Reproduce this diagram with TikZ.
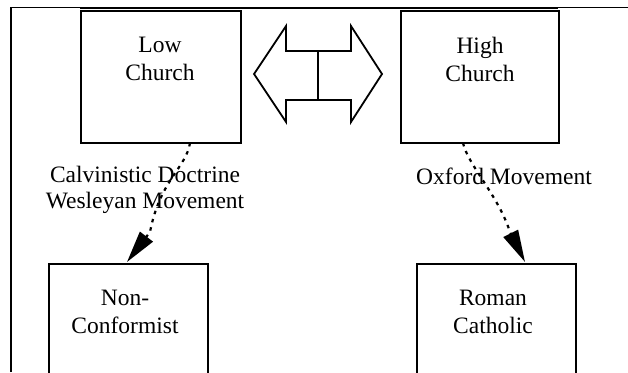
\documentclass[tikz,border=0pt]{standalone}
\usepackage{fontspec}
\setmainfont{Liberation Serif}
\usetikzlibrary{arrows.meta}
\begin{document}
\begin{tikzpicture}[x=1pt,y=-1pt,
  boxline/.style={line width=2.3pt},
  txt/.style={align=center, inner sep=0pt, font=\fontsize{23.5}{28}\selectfont},
  lbl/.style={align=center, inner sep=0pt, font=\fontsize{23.5}{26}\selectfont},
  conn/.style={line width=2.2pt, dash pattern=on 3.5pt off 5pt, -{Triangle[length=32pt,width=16pt]}}]
\useasboundingbox (0,0) rectangle (628,372);
% frame
\draw[line width=1.4pt] (11,372) -- (11,7.5) -- (628,7.5);
\draw[line width=2.4pt] (80,8) -- (558,8);
% top boxes
\node[draw, boxline, minimum width=160pt, minimum height=132pt, anchor=north west, inner sep=0pt] (lcbox) at (80,10) {};
\node[draw, boxline, minimum width=158pt, minimum height=132pt, anchor=north west, inner sep=0pt] (hcbox) at (400,10) {};
\node[txt] (lc) at (160,59) {Low\\Church};
\node[txt] (hc) at (480,59) {High\\Church};
% bottom boxes
\node[draw, boxline, minimum width=159pt, minimum height=140pt, anchor=north west, inner sep=0pt] (ncbox) at (48,263) {};
\node[draw, boxline, minimum width=159pt, minimum height=140pt, anchor=north west, inner sep=0pt] (rcbox) at (416,263) {};
\node[txt] (nc) at (125,312) {Non-\\Conformist};
\node[txt] (rc) at (493,312) {Roman\\Catholic};
% double arrow
\draw[line width=1.8pt, line join=miter] (254,74) -- (286,26) -- (286,51) -- (351,51) -- (351,26) -- (382,74) -- (351,122) -- (351,100) -- (286,100) -- (286,122) -- cycle;
\draw[line width=1.8pt] (318,51) -- (318,100);
% labels
\node[lbl] (l1) at (145,190) {Calvinistic Doctrine\\Wesleyan Movement};
\node[lbl] (l2) at (504,176) {Oxford Movement};
% connectors
\coordinate (s1) at (190,143);
\coordinate (b1) at (150,232);
\coordinate (t1) at (127,262);
\coordinate (s2) at (463,143);
\coordinate (b2) at (510,232);
\coordinate (t2) at (525,262);
\draw[conn] (s1) .. controls (186,168) and (160,180) .. (b1) -- (t1);
\draw[conn] (s2) .. controls (468,165) and (498,195) .. (b2) -- (t2);
\end{tikzpicture}
\end{document}
